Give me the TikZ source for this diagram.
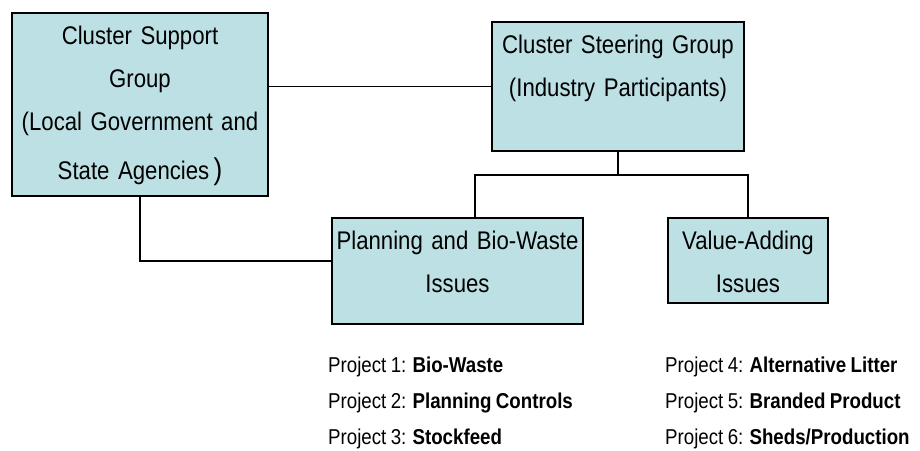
\documentclass[tikz,border=0pt]{standalone}
\usepackage{fontspec}
\setmainfont[FakeStretch=0.87, WordSpace=0.85]{Liberation Sans}
\usetikzlibrary{positioning}
\definecolor{boxfill}{RGB}{188,224,227}
\newcommand{\proj}[2]{Project #1: \textbf{#2}}

\begin{document}
\begin{tikzpicture}[
    % GLOBAL CFG
    x=1pt, y=-1pt,
    font=\fontsize{25.5}{43}\selectfont,
    % Styles
    group/.style={% For the group boxes
        rectangle,
        draw=black,
        line width=2pt,
        fill=boxfill,
        anchor=north west,
        inner sep=0pt,
        align=center,
        text height=31pt,
    },
    link/.style={% For the connecting lines
        line width=1.6pt,
    },
    project/.style={% For the project list
        anchor=base west,
        inner sep=0pt,
        font=\fontsize{21.5}{26}\selectfont,
    },
    ]

    \useasboundingbox (0,0) rectangle (920,450);

    % Draw groups
    \node [group, text width=256pt, text depth=152pt] (support) at (11,12)
        {Cluster Support\\Group\\(Local Government and\\[6pt]State Agencies\,{\fontsize{30}{43}\selectfont)}};
    \node [group, text width=252pt, text depth=98pt] (steer) at (491,21)
        {Cluster Steering Group\\(Industry Participants)};
    \node [group, text width=251pt, text depth=75pt] (plan) at (331,217)
        {Planning and Bio-Waste\\Issues};
    \node [group, text width=160pt, text depth=54pt] (value) at (667,217)
        {Value-Adding\\Issues};

    % Connect all
    \draw [link] (support.east |- steer.west) -- (steer.west);
    \draw [link] (steer.south) -- ++(0,23) coordinate (bus);
    \draw [link] ([xshift=144pt]plan.north west) |- (bus) -| (value.north);
    \draw [link] (support.south) |- ([yshift=10pt]plan.west);

    % Projects
    \node [project] (proj1) at (328,372) {\proj{1}{Bio-Waste}};
    \node [project] (proj2) at (328,408) {\proj{2}{Planning Controls}};
    \node [project] (proj3) at (328,444) {\proj{3}{Stockfeed}};
    \node [project] (proj4) at (665,372) {\proj{4}{Alternative Litter}};
    \node [project] (proj5) at (665,408) {\proj{5}{Branded Product}};
    \node [project] (proj6) at (665,444) {\proj{6}{Sheds/Production}};

\end{tikzpicture}
\end{document}
